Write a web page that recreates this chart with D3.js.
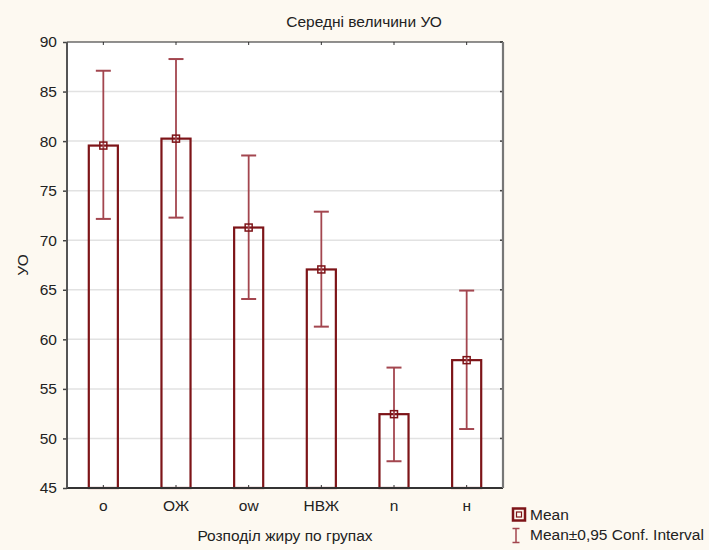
<!DOCTYPE html>
<html><head><meta charset="utf-8">
<script src="https://cdn.jsdelivr.net/npm/d3@7"></script>
<style>
html,body{margin:0;padding:0;background:#fdf9f1;}
svg{display:block;font-family:"Liberation Sans",Arial,sans-serif;}
</style></head>
<body>
<svg id="c" width="709" height="550"></svg>
<script>
const categories = ["o","ОЖ","ow","НВЖ","n","н"];
const means = [79.55, 80.25, 71.28, 67.05, 52.45, 57.9];
const ciUpper = [87.1, 88.28, 78.55, 72.88, 57.15, 64.92];
const ciLower = [72.15, 72.28, 64.07, 61.28, 47.7, 50.95];
const yTicks = [45,50,55,60,65,70,75,80,85,90];
const title = "Середні величини УО";
const xTitle = "Розподіл жиру по групах";
const yTitle = "УО";
const legendLabels = ["Mean","Mean±0,95 Conf. Interval"];

const L=67, R=503, T=42, B=488;
const FS = 15.5;
const svg = d3.select("#c");
const barColor="#7d1418", whiskColor="#a3464f";

const x = d3.scaleBand().domain(categories).range([L,R]).paddingInner(0.6).paddingOuter(0.3);
const y = d3.scaleLinear().domain([45,90]).range([B,T]);

svg.append("rect").attr("x",L).attr("y",T).attr("width",R-L).attr("height",B-T).attr("fill","#fff");

// gridlines
svg.append("g").selectAll("line").data(yTicks.filter(d=>d>45&&d<90)).join("line")
  .attr("x1",L).attr("x2",R).attr("y1",d=>y(d)).attr("y2",d=>y(d))
  .attr("stroke","#e2e2e2").attr("stroke-width",1.5);

// y axis
const yAxis = svg.append("g").attr("transform",`translate(${L},0)`)
  .call(d3.axisLeft(y).tickValues(yTicks).tickSize(4).tickPadding(6));
yAxis.select(".domain").remove();
yAxis.selectAll("line").attr("stroke","#444").attr("stroke-width",1.5);
yAxis.selectAll("text").attr("font-size",FS).attr("fill","#222").attr("font-family","Liberation Sans, Arial, sans-serif");

// right inner ticks
svg.append("g").selectAll("line").data(yTicks).join("line")
  .attr("x1",R-3).attr("x2",R).attr("y1",d=>y(d)).attr("y2",d=>y(d)).attr("stroke","#444").attr("stroke-width",1.5);

// x axis
const xAxis = svg.append("g").attr("transform",`translate(0,${B})`)
  .call(d3.axisBottom(x).tickSize(0).tickPadding(12));
xAxis.select(".domain").remove();
xAxis.selectAll("text").attr("font-size",FS).attr("fill","#222").attr("font-family","Liberation Sans, Arial, sans-serif");
// bottom/top small ticks
svg.append("g").selectAll("line").data(categories).join("line")
  .attr("x1",d=>x(d)+x.bandwidth()/2).attr("x2",d=>x(d)+x.bandwidth()/2)
  .attr("y1",B-3).attr("y2",B).attr("stroke","#333").attr("stroke-width",1);
svg.append("g").selectAll("line").data(categories).join("line")
  .attr("x1",d=>x(d)+x.bandwidth()/2).attr("x2",d=>x(d)+x.bandwidth()/2)
  .attr("y1",T).attr("y2",T+3).attr("stroke","#333").attr("stroke-width",1);

// bars
svg.append("g").selectAll("rect").data(categories).join("rect")
  .attr("x",d=>x(d)).attr("width",x.bandwidth())
  .attr("y",(d,i)=>y(means[i])).attr("height",(d,i)=>y(45)-y(means[i]))
  .attr("fill","none").attr("stroke",barColor).attr("stroke-width",2.2);

// whiskers
const cx = d=>x(d)+x.bandwidth()/2;
const wg = svg.append("g");
wg.selectAll("line.v").data(categories).join("line").attr("class","v")
  .attr("x1",cx).attr("x2",cx).attr("y1",(d,i)=>y(ciLower[i])).attr("y2",(d,i)=>y(ciUpper[i]))
  .attr("stroke",whiskColor).attr("stroke-width",1.8);
wg.selectAll("line.u").data(categories).join("line").attr("class","u")
  .attr("x1",d=>cx(d)-7.5).attr("x2",d=>cx(d)+7.5).attr("y1",(d,i)=>y(ciUpper[i])).attr("y2",(d,i)=>y(ciUpper[i]))
  .attr("stroke",whiskColor).attr("stroke-width",2);
wg.selectAll("line.l").data(categories).join("line").attr("class","l")
  .attr("x1",d=>cx(d)-7.5).attr("x2",d=>cx(d)+7.5).attr("y1",(d,i)=>y(ciLower[i])).attr("y2",(d,i)=>y(ciLower[i]))
  .attr("stroke",whiskColor).attr("stroke-width",2);

// mean markers
svg.append("g").selectAll("rect").data(categories).join("rect")
  .attr("x",d=>cx(d)-3.5).attr("y",(d,i)=>y(means[i])-3.5).attr("width",7).attr("height",7)
  .attr("fill","none").attr("stroke",barColor).attr("stroke-width",1.5);

// frame
svg.append("line").attr("x1",L).attr("x2",R).attr("y1",T).attr("y2",T).attr("stroke","#222").attr("stroke-width",1.2);
svg.append("line").attr("x1",L).attr("x2",R).attr("y1",B).attr("y2",B).attr("stroke","#333").attr("stroke-width",1.8);
svg.append("line").attr("x1",L).attr("x2",L).attr("y1",T).attr("y2",B).attr("stroke","#555").attr("stroke-width",2);
svg.append("line").attr("x1",R).attr("x2",R).attr("y1",T).attr("y2",B).attr("stroke","#777").attr("stroke-width",2.2);

// titles
svg.append("text").attr("x",364).attr("y",27).attr("text-anchor","middle").attr("font-size",FS).attr("fill","#222").text(title);
svg.append("text").attr("x",(L+R)/2).attr("y",541).attr("text-anchor","middle").attr("font-size",FS).attr("fill","#222").text(xTitle);
svg.append("text").attr("transform",`translate(28,265) rotate(-90)`).attr("text-anchor","middle").attr("font-size",FS).attr("fill","#222").text(yTitle);

// legend
const lg = svg.append("g");
lg.append("rect").attr("x",513).attr("y",508.5).attr("width",12).attr("height",12).attr("fill","none").attr("stroke",barColor).attr("stroke-width",2.5);
lg.append("rect").attr("x",516.5).attr("y",512).attr("width",5).attr("height",5).attr("fill","none").attr("stroke",barColor).attr("stroke-width",1.2);
lg.append("text").attr("x",530).attr("y",520).attr("font-size",FS).attr("fill","#222").text(legendLabels[0]);
lg.append("line").attr("x1",512.5).attr("x2",519.5).attr("y1",528.5).attr("y2",528.5).attr("stroke",whiskColor).attr("stroke-width",1.5);
lg.append("line").attr("x1",512.5).attr("x2",519.5).attr("y1",542.5).attr("y2",542.5).attr("stroke",whiskColor).attr("stroke-width",1.5);
lg.append("line").attr("x1",516).attr("x2",516).attr("y1",528.5).attr("y2",542.5).attr("stroke",whiskColor).attr("stroke-width",1.5);
lg.append("text").attr("x",530).attr("y",540).attr("font-size",FS).attr("fill","#222").text(legendLabels[1]);
</script>
</body></html>
